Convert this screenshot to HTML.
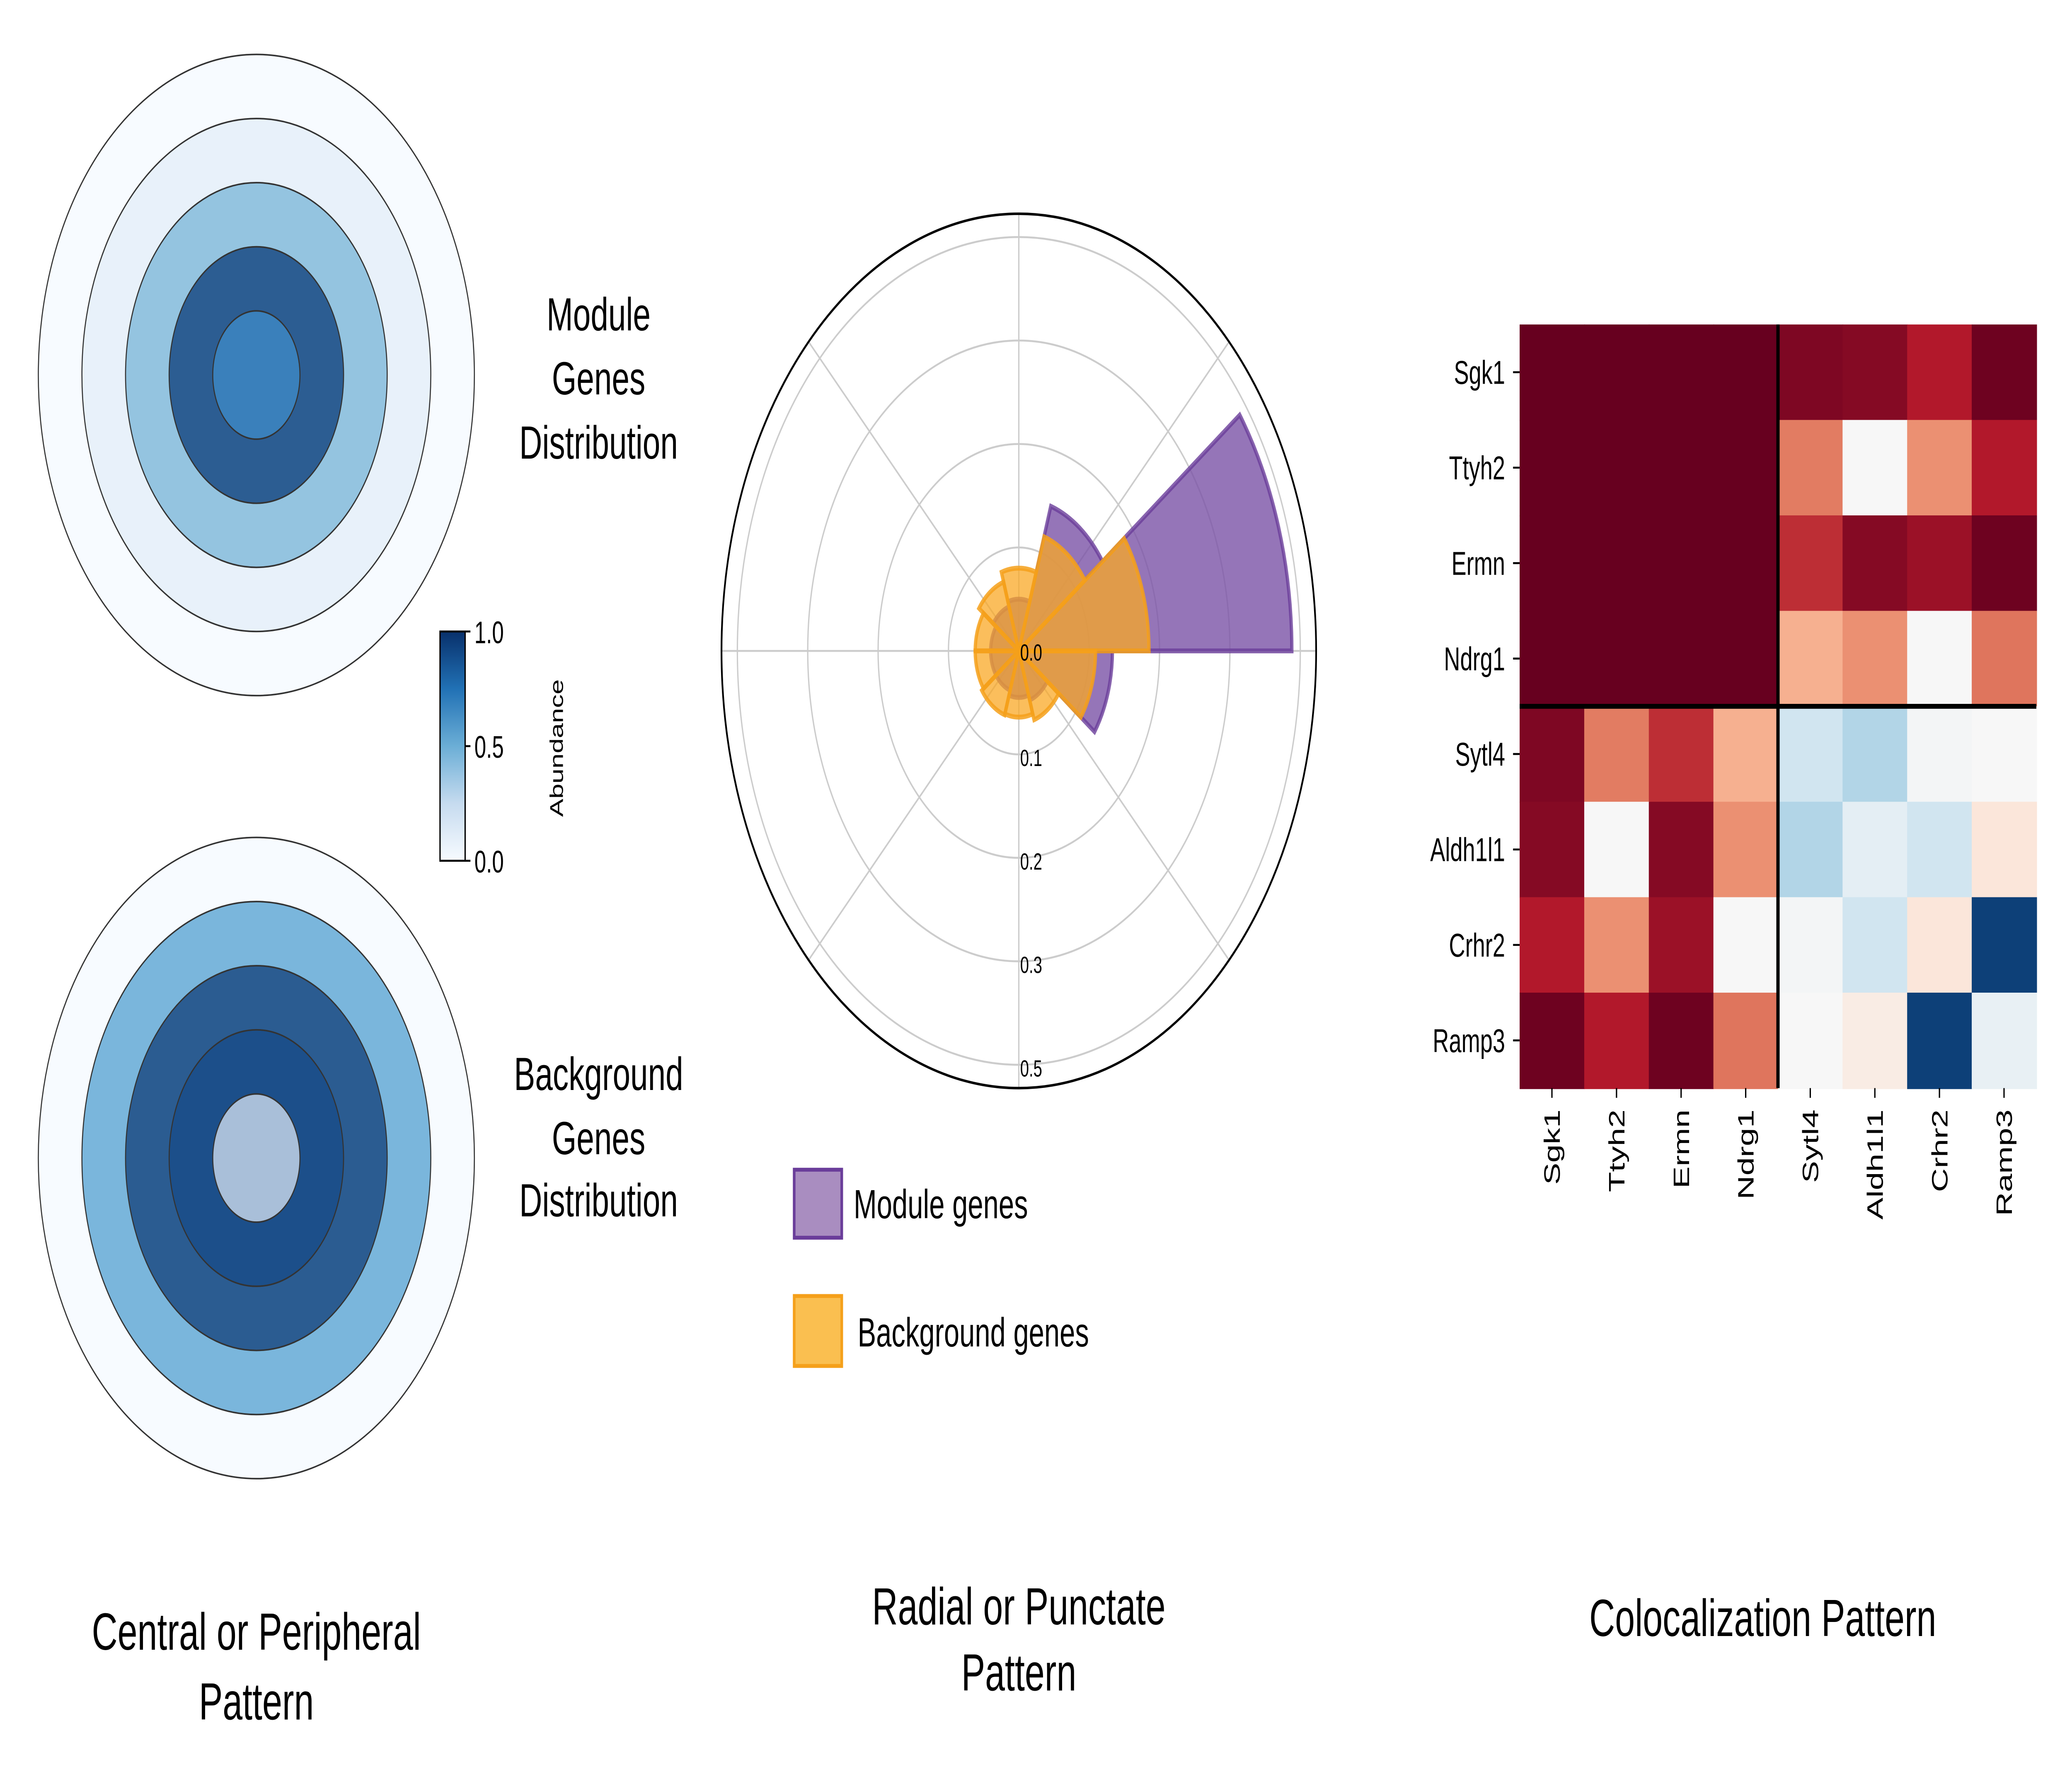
<!DOCTYPE html>
<html><head><meta charset="utf-8"><style>
html,body{margin:0;padding:0;background:#fff;width:100%;height:100%;overflow:hidden;}
svg{display:block;width:100vw;height:100vh;font-family:"Liberation Sans",Arial,sans-serif;}
</style></head><body>
<svg id="fig" viewBox="0 0 1568 913" preserveAspectRatio="none" xmlns="http://www.w3.org/2000/svg">
<rect width="1568" height="913" fill="#fff"/>
<g id="left"></g>
<g id="cbar">
 <defs><linearGradient id="bg" x1="0" y1="1" x2="0" y2="0">
  <stop offset="0" stop-color="#f7fbff"/><stop offset="0.25" stop-color="#c6dbef"/><stop offset="0.5" stop-color="#6baed6"/><stop offset="0.75" stop-color="#2171b5"/><stop offset="1" stop-color="#08306b"/></linearGradient></defs>
 <rect x="333" y="325" width="19" height="118" fill="url(#bg)" stroke="#000" stroke-width="1"/>
 <g font-size="16" fill="#000">
  <line x1="352" y1="325" x2="356" y2="325" stroke="#000"/><text x="359" y="331">1.0</text>
  <line x1="352" y1="384" x2="356" y2="384" stroke="#000"/><text x="359" y="390">0.5</text>
  <line x1="352" y1="443" x2="356" y2="443" stroke="#000"/><text x="359" y="449">0.0</text>
 </g>
 <text transform="translate(426,385) rotate(-90)" text-anchor="middle" font-size="14">Abundance</text>
</g>
<g font-size="24" text-anchor="middle" fill="#000">
 <text x="453" y="170">Module</text>
 <text x="453" y="203">Genes</text>
 <text x="453" y="236">Distribution</text>
 <text x="453" y="561">Background</text>
 <text x="453" y="594">Genes</text>
 <text x="453" y="626">Distribution</text>
</g>
<g font-size="27" text-anchor="middle" fill="#000">
 <text x="194" y="849">Central or Peripheral</text>
 <text x="194" y="885">Pattern</text>
 <text x="771" y="836">Radial or Punctate</text>
 <text x="771" y="870">Pattern</text>
 <text x="1334" y="842">Colocalization Pattern</text>
</g>
<g id="polar"></g>
<g>
 <rect x="601" y="602" width="36" height="35" fill="#9470b0" fill-opacity="0.8" stroke="#6a3d9a" stroke-width="2"/>
 <text x="646" y="627" font-size="21">Module genes</text>
 <rect x="601" y="667" width="36" height="36" fill="#f9b431" fill-opacity="0.85" stroke="#f5a01a" stroke-width="2"/>
 <text x="649" y="693" font-size="21">Background genes</text>
</g>
<g id="heat"></g>
</svg>
<script>
const NS="http://www.w3.org/2000/svg";
function mk(parent,tag,attrs){const e=document.createElementNS(NS,tag);for(const k in attrs)e.setAttribute(k,attrs[k]);parent.appendChild(e);return e;}

// ---- concentric rings ----
const ringRadii=[165,132,99,66,33];
const moduleRingColors=["#f7fbff","#e8f1fa","#94c4e0","#2c5d92","#3a80bb"];
const backgroundRingColors=["#f7fbff","#7ab6dc","#2b5c91","#1c4f8a","#a9bfd9"];
const left=document.getElementById('left');
[[193,moduleRingColors,'module'],[596,backgroundRingColors,'background']].forEach(([cy,cols,nm])=>{
  ringRadii.forEach((r,i)=>{
    const c=mk(left,'circle',{cx:194,cy:cy,r:r,fill:cols[i],stroke:'#333','stroke-width':0.8});
    
    
  });
});

// ---- polar chart ----
const binAngles=[0,36,72,108,144,180,216,252,288,324];
const moduleValues=[0.388,0.147,0.05,0.045,0.04,0.04,0.04,0.045,0.05,0.133];
const backgroundValues=[0.185,0.116,0.08,0.07,0.062,0.062,0.065,0.064,0.07,0.109];
const radialTicks=["0.0","0.1","0.2","0.3","0.5"];
const cx=771,cy=335,R=225,k=532.5;
const polar=document.getElementById('polar');
mk(polar,'circle',{cx:cx,cy:cy,r:R,fill:'#fff',stroke:'none'});
for(let i=1;i<=4;i++){const g=mk(polar,'circle',{cx:cx,cy:cy,r:i*53.25,fill:'none',stroke:'#ccc','stroke-width':1});
 }
for(let a=0;a<360;a+=45){const t=a*Math.PI/180;const l=mk(polar,'line',{x1:cx,y1:cy,x2:cx+R*Math.cos(t),y2:cy-R*Math.sin(t),stroke:'#ccc','stroke-width':1});
 }
function wedge(a0,a1,r){const t0=a0*Math.PI/180,t1=a1*Math.PI/180;
 return `M${cx},${cy} L${cx+r*Math.cos(t0)},${cy-r*Math.sin(t0)} A${r},${r} 0 0 0 ${cx+r*Math.cos(t1)},${cy-r*Math.sin(t1)} Z`;}
binAngles.forEach((a,i)=>{const p=mk(polar,'path',{d:wedge(a,a+36,moduleValues[i]*k),fill:'#7b52a6','fill-opacity':0.8,stroke:'#6a3d9a','stroke-width':2.5,'stroke-opacity':0.8});
 });
binAngles.forEach((a,i)=>{const p=mk(polar,'path',{d:wedge(a,a+36,backgroundValues[i]*k),fill:'#f9a825','fill-opacity':0.75,stroke:'#f5a01a','stroke-width':2.5,'stroke-opacity':0.85});
 });
mk(polar,'circle',{cx:cx,cy:cy,r:R,fill:'none',stroke:'#000','stroke-width':1.3});
radialTicks.forEach((t,i)=>{const tx=mk(polar,'text',{x:cx+1,y:cy+5+i*53.25+(i?1:0),'font-size':12});tx.textContent=t;
 });

// ---- heatmap ----
const genes=["Sgk1","Ttyh2","Ermn","Ndrg1","Sytl4","Aldh1l1","Crhr2","Ramp3"];
const row0=[1,1,1,1,0.97,0.96,0.9,0.99];
const row1=[1,1,1,1,0.76,0.5,0.73,0.9];
const row2=[1,1,1,1,0.87,0.96,0.93,0.99];
const row3=[1,1,1,1,0.68,0.73,0.5,0.77];
const row4=[0.97,0.76,0.87,0.68,0.4,0.35,0.49,0.5];
const row5=[0.96,0.5,0.96,0.73,0.35,0.45,0.4,0.56];
const row6=[0.9,0.73,0.93,0.5,0.49,0.4,0.56,0.03];
const row7=[0.99,0.9,0.99,0.77,0.5,0.54,0.03,0.46];
const matrix=[row0,row1,row2,row3,row4,row5,row6,row7];
const stops=[[5,48,97],[33,102,172],[67,147,195],[146,197,222],[209,229,240],[247,247,247],[253,219,199],[244,165,130],[214,96,77],[178,24,43],[103,0,31]];
function cmap(v){v=Math.max(0,Math.min(1,v));const f=v*(stops.length-1);const i=Math.min(Math.floor(f),stops.length-2);const t=f-i;
 const c=stops[i].map((s,j)=>Math.round(s+(stops[i+1][j]-s)*t));return `rgb(${c})`;}
const heat=document.getElementById('heat');
const hx=1150,hy=167,cw=391/8,ch=393/8;
matrix.forEach((row,r)=>row.forEach((v,c)=>{const e=mk(heat,'rect',{x:hx+c*cw,y:hy+r*ch,width:cw+0.5,height:ch+0.5,fill:cmap(v)});
 }));
mk(heat,'line',{x1:hx+4*cw,y1:hy,x2:hx+4*cw,y2:hy+8*ch,stroke:'#000','stroke-width':2.5});
mk(heat,'line',{x1:hx,y1:hy+4*ch,x2:hx+8*cw,y2:hy+4*ch,stroke:'#000','stroke-width':2.5});
genes.forEach((g,i)=>{
 mk(heat,'line',{x1:hx-5,y1:hy+(i+0.5)*ch,x2:hx,y2:hy+(i+0.5)*ch,stroke:'#000'});
 const t=mk(heat,'text',{x:hx-11,y:hy+(i+0.5)*ch+6,'text-anchor':'end','font-size':17});t.textContent=g;
 
 const x=hx+(i+0.5)*cw;
 mk(heat,'line',{x1:x,y1:hy+8*ch,x2:x,y2:hy+8*ch+5,stroke:'#000'});
 const u=mk(heat,'text',{transform:`translate(${x+6},${hy+8*ch+11}) rotate(-90)`,'text-anchor':'end','font-size':17});u.textContent=g;
 
});
</script>
</body></html>
